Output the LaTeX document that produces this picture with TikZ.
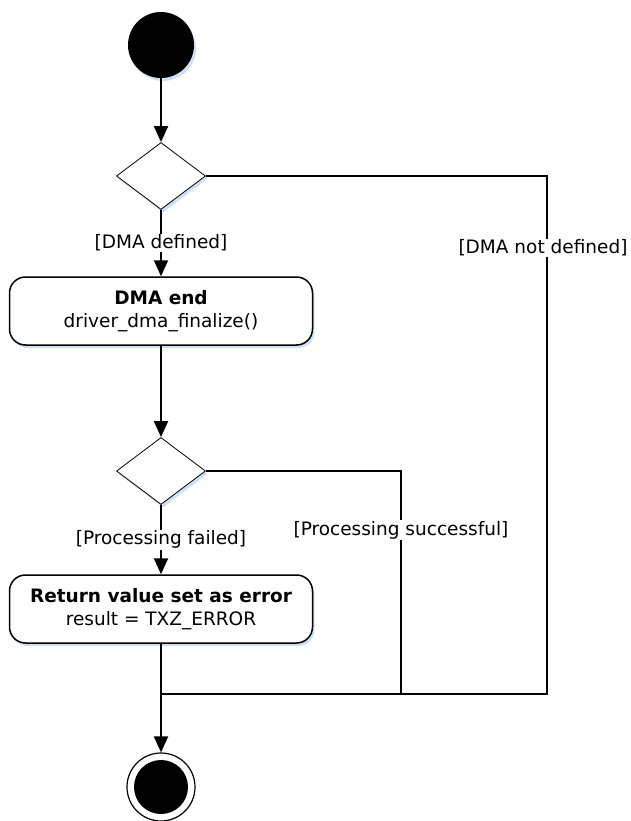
\documentclass[tikz,border=0pt]{standalone}
\usepackage{fontspec}
\setmainfont{DejaVu Sans}
\usetikzlibrary{arrows.meta,shapes.geometric,shadows,positioning}
\definecolor{shadowblue}{RGB}{208,224,242}

\begin{document}
\begin{tikzpicture}[x=1pt, y=-1pt,
	every node/.style={font=\fontsize{18.5}{23}\selectfont},
	soft shadow/.style={drop shadow={fill=shadowblue, opacity=1, shadow xshift=2pt, shadow yshift=-3pt}},
	initial node/.style={circle, fill=black, minimum size=66pt, inner sep=0pt, soft shadow},
	final node/.style={circle, draw, line width=1.2pt, fill=white, minimum size=68pt, inner sep=0pt},
	decision/.style={diamond, draw, line width=0.8pt, fill=white, minimum width=89pt, minimum height=67pt, inner sep=0pt, soft shadow},
	action box/.style={draw, line width=1.5pt, rounded corners=16pt, fill=white, minimum width=303pt, minimum height=68pt, align=center, soft shadow},
	guard/.style={fill=white, inner sep=1pt},
	flow line/.style={line width=2pt},
	flow/.style={flow line, -{Triangle[length=16pt, width=14pt]}},
]
	\useasboundingbox (0,0) rectangle (630,821);

	\node[initial node] (start) at (161,45) {};
	\node[decision] (dec1) at (161,176) {};
	\node[action box] (dma) at (161,311) {\textbf{DMA end}\\driver\_dma\_finalize()};
	\node[decision] (dec2) at (161,471) {};
	\node[action box] (err) at (161,609) {\textbf{Return value set as error}\\result = TXZ\_ERROR};
	\node[final node] (final) at (161,787) {};
	\fill (final.center) circle (27pt);

	\coordinate (merge) at (161,694);
	\coordinate (skip dma) at (547,694);
	\coordinate (skip err) at (401,694);

	\draw[flow] (start) -- (dec1);
	\draw[flow] (dec1) -- node[guard] {[DMA defined]} (dma);
	\draw[flow] (dma) -- (dec2);
	\draw[flow] (dec2) -- node[guard] {[Processing failed]} (err);
	\draw[flow] (err) -- (final);
	\draw[flow line] (dec1) -| (skip dma) -- (merge);
	\draw[flow line] (dec2) -| (skip err);

	\node[guard] at (543,248) {[DMA not defined]};
	\node[guard] at (401,530) {[Processing successful]};
\end{tikzpicture}
\end{document}
